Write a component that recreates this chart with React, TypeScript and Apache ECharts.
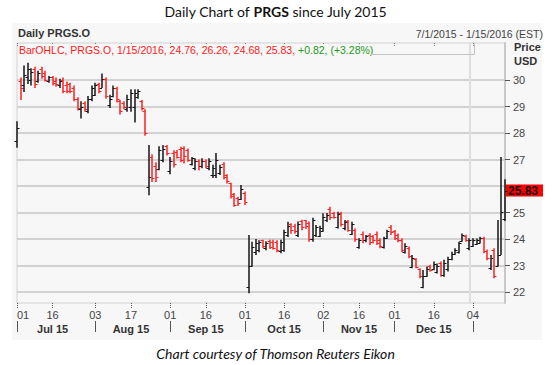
import React, { useEffect, useRef } from "react";
import * as echarts from "echarts";

// Trading days per month (Jul 2015 - Jan 2016)
const julDays = [1, 2, 6, 7, 8, 9, 10, 13, 14, 15, 16, 17, 20, 21, 22, 23, 24, 27, 28, 29, 30, 31];
const augDays = [3, 4, 5, 6, 7, 10, 11, 12, 13, 14, 17, 18, 19, 20, 21, 24, 25, 26, 27, 28, 31];
const sepDays = [1, 2, 3, 4, 8, 9, 10, 11, 14, 15, 16, 17, 18, 21, 22, 23, 24, 25, 28, 29, 30];
const octDays = [1, 2, 5, 6, 7, 8, 9, 12, 13, 14, 15, 16, 19, 20, 21, 22, 23, 26, 27, 28, 29, 30];
const novDays = [2, 3, 4, 5, 6, 9, 10, 11, 12, 13, 16, 17, 18, 19, 20, 23, 24, 25, 27, 30];
const decDays = [1, 2, 3, 4, 7, 8, 9, 10, 11, 14, 15, 16, 17, 18, 21, 22, 23, 24, 28, 29, 30, 31];
const janDays = [4, 5, 6, 7, 8, 11, 12, 13, 14, 15];

// [open, high, low, close]
const julBars = [
  [27.7, 28.45, 27.45, 28.2], [29.95, 30.1, 29.25, 29.7], [29.8, 30.55, 29.55, 30.2], [30.1, 30.65, 29.85, 30.4],
  [30.0, 30.45, 29.8, 30.3], [30.4, 30.5, 29.7, 29.85], [29.95, 30.35, 29.9, 30.25], [30.4, 30.5, 30.05, 30.15],
  [30.25, 30.35, 29.95, 30.0], [29.95, 30.15, 29.9, 30.1], [30.1, 30.15, 29.8, 29.9], [29.95, 30.1, 29.75, 29.85],
  [29.8, 30.05, 29.7, 29.95], [30.0, 30.1, 29.5, 29.6], [29.8, 29.95, 29.5, 29.6], [29.85, 29.9, 29.5, 29.6],
  [29.7, 29.8, 29.2, 29.3], [29.3, 29.35, 28.85, 28.95], [28.9, 29.2, 28.55, 29.0], [29.15, 29.2, 28.8, 28.9],
  [28.85, 29.4, 28.75, 29.3], [29.3, 29.8, 29.2, 29.7],
];
const augBars = [
  [29.45, 29.9, 29.4, 29.8], [29.85, 29.9, 29.5, 29.6], [29.7, 30.25, 29.7, 30.05], [30.05, 30.1, 29.3, 29.4],
  [29.05, 29.45, 28.95, 29.3], [29.4, 29.8, 29.35, 29.7], [29.7, 29.75, 29.15, 29.3], [29.2, 29.25, 28.7, 28.85],
  [29.15, 29.2, 28.9, 29.0], [28.9, 29.45, 28.8, 29.3], [29.0, 29.65, 28.8, 29.5], [29.0, 29.65, 28.4, 29.5],
  [29.35, 29.65, 29.3, 29.6], [29.2, 29.25, 28.85, 28.95], [28.85, 28.9, 27.9, 28.0], [25.95, 27.55, 25.65, 26.35],
  [27.1, 27.2, 26.15, 26.3], [26.75, 26.9, 26.15, 26.35], [26.65, 27.5, 26.6, 27.35], [27.0, 27.55, 26.9, 27.4],
  [27.5, 27.55, 27.15, 27.25],
];
const sepBars = [
  [26.55, 27.1, 26.45, 26.95], [27.25, 27.35, 26.7, 26.85], [27.3, 27.36, 27.04, 27.1], [27.4, 27.48, 26.9, 27.0],
  [27.45, 27.5, 26.85, 27.15], [27.35, 27.42, 26.92, 27.0], [26.85, 27.1, 26.78, 27.05], [26.7, 27.05, 26.6, 26.95],
  [26.95, 27.0, 26.6, 26.75], [26.75, 27.05, 26.67, 26.95], [26.95, 27.0, 26.67, 26.75], [26.7, 27.05, 26.6, 26.95],
  [26.4, 26.8, 26.3, 26.7], [26.4, 27.25, 26.3, 27.0], [26.5, 26.8, 26.42, 26.72], [26.85, 26.9, 26.25, 26.35],
  [26.4, 26.45, 26.1, 26.2], [26.1, 26.12, 25.53, 25.62], [25.7, 25.74, 25.22, 25.3], [25.55, 25.6, 25.25, 25.35],
  [25.5, 26.04, 25.47, 25.9],
];
const octBars = [
  [25.75, 25.79, 25.28, 25.4], [22.2, 24.15, 21.95, 23.0], [23.0, 23.9, 22.95, 23.7], [23.5, 24.0, 23.4, 23.85],
  [23.6, 23.95, 23.5, 23.9], [23.95, 23.97, 23.65, 23.75], [23.65, 23.92, 23.58, 23.85], [23.92, 23.97, 23.62, 23.7],
  [23.9, 23.97, 23.6, 23.68], [23.9, 23.95, 23.5, 23.6], [23.55, 23.97, 23.46, 23.9], [23.6, 24.35, 23.52, 24.25],
  [24.15, 24.65, 24.08, 24.5], [24.55, 24.6, 24.2, 24.35], [24.5, 24.58, 24.2, 24.3], [24.15, 24.66, 24.08, 24.55],
  [24.68, 24.73, 24.33, 24.45], [24.7, 24.72, 24.38, 24.5], [24.6, 24.66, 23.9, 24.0], [24.0, 24.8, 23.9, 24.7],
  [24.15, 24.53, 24.08, 24.45], [24.12, 24.5, 24.08, 24.4],
];
const novBars = [
  [24.3, 24.97, 24.27, 24.85], [24.7, 24.98, 24.64, 24.9], [25.15, 25.22, 24.72, 24.85], [25.0, 25.03, 24.77, 24.85],
  [24.45, 25.03, 24.4, 24.95], [24.98, 25.03, 24.47, 24.55], [24.4, 24.72, 24.33, 24.65], [24.68, 24.72, 24.27, 24.35],
  [24.2, 24.65, 24.15, 24.55], [24.35, 24.4, 23.9, 24.0], [23.7, 24.03, 23.63, 23.95], [24.2, 24.28, 23.84, 23.95],
  [23.95, 24.15, 23.88, 24.1], [24.15, 24.22, 23.77, 23.9], [24.1, 24.15, 23.83, 23.95], [24.2, 24.28, 23.77, 23.85],
  [23.95, 24.03, 23.65, 23.75], [23.7, 24.09, 23.64, 24.05], [24.05, 24.35, 24.0, 24.3], [24.45, 24.53, 24.15, 24.25],
];
const decBars = [
  [24.3, 24.34, 23.96, 24.05], [24.15, 24.21, 23.88, 23.95], [23.98, 24.03, 23.5, 23.6], [23.5, 23.84, 23.45, 23.75],
  [23.68, 23.72, 23.27, 23.35], [22.95, 23.4, 22.9, 23.3], [23.25, 23.28, 22.9, 22.95], [22.88, 22.9, 22.52, 22.6],
  [22.2, 22.83, 22.14, 22.6], [22.62, 22.96, 22.58, 22.85], [23.0, 23.03, 22.76, 22.82], [22.85, 23.15, 22.82, 23.05],
  [22.75, 23.08, 22.7, 23.0], [23.1, 23.15, 22.58, 22.65], [22.65, 23.22, 22.58, 23.1], [22.85, 23.33, 22.77, 23.25],
  [23.25, 23.52, 23.2, 23.45], [23.42, 23.65, 23.4, 23.6], [23.5, 23.9, 23.45, 23.85], [23.92, 24.21, 23.9, 24.15],
  [24.12, 24.16, 23.9, 23.95], [23.65, 24.03, 23.58, 23.95],
];
const janBars = [
  [23.75, 24.03, 23.7, 23.98], [23.8, 24.02, 23.77, 23.97], [23.86, 24.09, 23.83, 24.05], [24.05, 24.09, 23.46, 23.55],
  [23.55, 23.6, 23.2, 23.28], [22.9, 23.4, 22.83, 23.3], [23.6, 23.65, 22.52, 22.6], [23.0, 24.72, 22.96, 23.4],
  [23.4, 27.1, 23.4, 25.01], [24.76, 26.26, 24.68, 25.83],
];

const dayTickIdx = [0, 10, 22, 32, 43, 53, 64, 75, 86, 96, 106, 117, 128];
const monthStartIdx = [0, 22, 43, 64, 86, 106, 128];
const monthLabelIdx = [10, 32, 53, 75, 96, 117];
const monthLabels = ["Jul 15", "Aug 15", "Sep 15", "Oct 15", "Nov 15", "Dec 15"];
const priceTicks = [22, 23, 24, 25, 26, 27, 28, 29, 30];
const priceLabels = [22, 23, 24, 25, 27, 28, 29, 30]; // 26 is covered by the last-price badge
const lastClose = 25.83;
const yearBreakIdx = 127;

const pad = (n: number) => (n < 10 ? "0" + n : "" + n);
const months: [string, number[]][] = [
  ["2015-07", julDays], ["2015-08", augDays], ["2015-09", sepDays], ["2015-10", octDays],
  ["2015-11", novDays], ["2015-12", decDays], ["2016-01", janDays],
];
const dates: string[] = [];
months.forEach(([ym, days]) => days.forEach((d) => dates.push(ym + "-" + pad(d))));
const bars = [...julBars, ...augBars, ...sepBars, ...octBars, ...novBars, ...decBars, ...janBars];
const seriesData = bars.map((b, i) => [i, b[0], b[1], b[2], b[3]]);

const FONT = "'Liberation Sans', Arial, sans-serif";
const UP = "#141414";
const DOWN = "#ff1f1f";

function buildOption(): any {
  return {
    animation: false,
    textStyle: { fontFamily: FONT },
    grid: {
      left: 17, right: 47, top: 43, bottom: 62,
      show: true, backgroundColor: "#f7f7f7", borderColor: "#d2d2d2", borderWidth: 1,
    },
    graphic: [
      { type: "rect", z: -5, shape: { x: 12, y: 23, width: 530, height: 317 }, style: { fill: "#f7f7f7" }, silent: true },
      {
        type: "text", left: "center", top: 4,
        style: {
          text: "Daily Chart of {b|PRGS} since July 2015",
          font: "14px Lato", fill: "#111",
          rich: { b: { fontWeight: "bold", fontSize: 14, fontFamily: "Lato", fill: "#111" } },
        },
      },
      { type: "text", x: 18, y: 27, style: { text: "Daily PRGS.O", font: "bold 11px " + FONT, fill: "#333" } },
      { type: "text", right: 9, y: 28, style: { text: "7/1/2015 - 1/15/2016 (EST)", font: "10.5px " + FONT, fill: "#444" } },
      {
        type: "text", x: 19, y: 44, z: 10,
        style: {
          text: "{r|BarOHLC, PRGS.O, 1/15/2016, 24.76, 26.26, 24.68, 25.83,} {g|+0.82, (+3.28%)}",
          font: "10.5px " + FONT, backgroundColor: "#f7f7f7",
          rich: {
            r: { fill: "#ff1a1a", fontSize: 10.5, fontFamily: FONT },
            g: { fill: "#1a9a1a", fontSize: 10.5, fontFamily: FONT },
          },
        },
      },
      { type: "polyline", z: 10, shape: { points: [[371, 54.5], [474.5, 54.5], [474.5, 43]] }, style: { stroke: "#c4c4c4", lineWidth: 1, fill: null } },
      { type: "text", x: 514, y: 41, style: { text: "Price", font: "bold 11px " + FONT, fill: "#333" } },
      { type: "text", x: 514, y: 55, style: { text: "USD", font: "bold 11px " + FONT, fill: "#333" } },
      {
        type: "text", left: "center", top: 346,
        style: { text: "Chart courtesy of Thomson Reuters Eikon", font: "italic 14px Lato", fill: "#111" },
      },
    ],
    xAxis: [
      {
        type: "category", data: dates, boundaryGap: false, position: "bottom",
        axisLine: { show: false },
        axisTick: { show: true, length: 5, interval: (i: number) => dayTickIdx.includes(i), lineStyle: { color: "#555", type: "dotted" } },
        axisLabel: {
          interval: (i: number) => dayTickIdx.includes(i),
          formatter: (v: string) => v.slice(8),
          color: "#444", fontSize: 11, margin: 6, fontFamily: FONT,
          alignMinLabel: "left", hideOverlap: false,
        },
        splitLine: { show: false },
      },
      {
        type: "category", data: dates, boundaryGap: false, position: "bottom", offset: 18,
        axisLine: { show: false },
        axisTick: { show: true, length: 11, interval: (i: number) => monthStartIdx.includes(i), lineStyle: { color: "#555", width: 1 } },
        axisLabel: {
          interval: (i: number) => monthLabelIdx.includes(i),
          formatter: (_v: string, i: number) => monthLabels[monthLabelIdx.indexOf(i)] || "",
          color: "#333", fontSize: 11, fontWeight: "bold", margin: 2, fontFamily: FONT, hideOverlap: false,
        },
        splitLine: { show: false },
      },
      {
        type: "category", data: dates, boundaryGap: false, position: "top",
        axisLine: { show: false },
        axisTick: { show: true, inside: true, length: 4, interval: (i: number) => dayTickIdx.includes(i), lineStyle: { color: "#777", type: "dotted" } },
        axisLabel: { show: false },
        splitLine: { show: false },
      },
    ],
    yAxis: {
      type: "value", position: "right", min: 21.585, max: 31.4, scale: true,
      axisLine: { show: true, lineStyle: { color: "#c8c8c8", width: 2 } },
      axisTick: { show: true, length: 5, customValues: priceTicks, lineStyle: { color: "#555" } },
      axisLabel: { customValues: priceLabels, color: "#444", fontSize: 11, margin: 8, fontFamily: FONT },
      splitLine: { show: false },
    },
    series: [
      {
        type: "custom", xAxisIndex: 0, yAxisIndex: 0, z: 3,
        data: seriesData,
        encode: { x: 0, y: [1, 2, 3, 4] },
        renderItem: (_p: any, api: any) => {
          const idx = api.value(0);
          const o = api.value(1), h = api.value(2), l = api.value(3), c = api.value(4);
          const pH = api.coord([idx, h]);
          const pL = api.coord([idx, l]);
          const pO = api.coord([idx, o]);
          const pC = api.coord([idx, c]);
          const color = c >= o ? UP : DOWN;
          const x = Math.round(pH[0]);
          const yo = Math.round(pO[1]) + 0.5;
          const yc = Math.round(pC[1]) + 0.5;
          return {
            type: "group",
            children: [
              { type: "line", shape: { x1: x, y1: pH[1], x2: x, y2: pL[1] }, style: { stroke: color, lineWidth: 1.5 } },
              { type: "line", shape: { x1: x - 2.5, y1: yo, x2: x, y2: yo }, style: { stroke: color, lineWidth: 1 } },
              { type: "line", shape: { x1: x, y1: yc, x2: x + 2.5, y2: yc }, style: { stroke: color, lineWidth: 1 } },
            ],
          };
        },
        markLine: {
          silent: true, symbol: "none", z: 1, animation: false,
          label: { show: false },
          lineStyle: { color: "#c6c6c6", width: 1.5, type: "solid" },
          data: [
            ...priceTicks.map((v) => ({ yAxis: v })),
            { xAxis: dates[yearBreakIdx], lineStyle: { color: "#dedede", width: 2, type: "solid" } },
            {
              yAxis: lastClose,
              lineStyle: { color: "rgba(0,0,0,0)", width: 1, type: "solid" },
              label: {
                show: true, position: "end", distance: 1, formatter: lastClose.toFixed(2),
                backgroundColor: "#ff0000", color: "#111", fontWeight: "bold", fontSize: 12,
                fontFamily: FONT, padding: [0, 5, 0, 2], lineHeight: 12,
              },
            },
          ],
        },
      },
    ],
  };
}

export default function App() {
  const ref = useRef<HTMLDivElement>(null);
  useEffect(() => {
    if (!ref.current) return;
    const chart = echarts.init(ref.current, null, { renderer: "svg" });
    chart.setOption(buildOption());
    return () => chart.dispose();
  }, []);
  return <div ref={ref} style={{ position: "absolute", left: 0, top: 0, width: 552, height: 365 }} />;
}
